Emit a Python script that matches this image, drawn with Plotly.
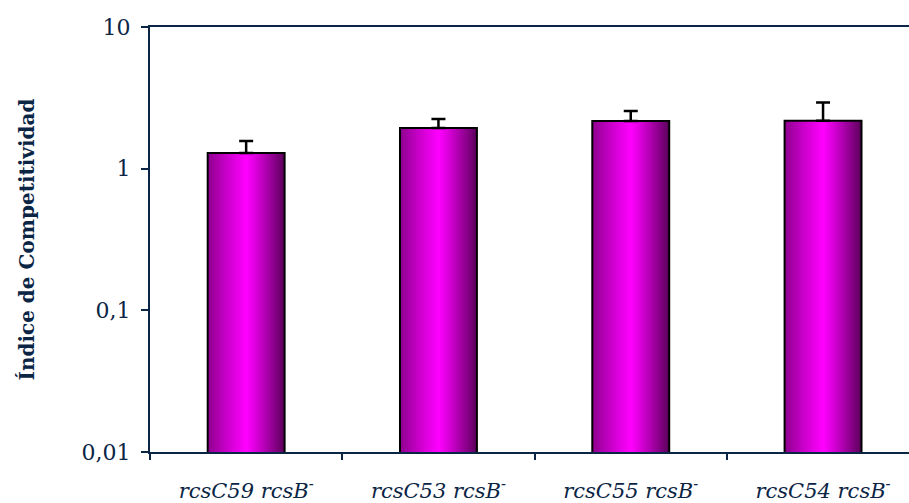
import plotly.graph_objects as go

categories = ["rcsC59 rcsB<sup>-</sup>", "rcsC53 rcsB<sup>-</sup>",
              "rcsC55 rcsB<sup>-</sup>", "rcsC54 rcsB<sup>-</sup>"]
values = [1.29, 1.94, 2.17, 2.18]
err_plus = [0.28, 0.30, 0.38, 0.75]

tick_vals = [0.01, 0.1, 1, 10]
tick_text = ["0,01", "0,1", "1", "10"]

NAVY = "#0b2545"
FONT = "DejaVu Serif"

x_idx = list(range(len(categories)))
bar_w = 0.4
N = 48
dw = bar_w / N
XR = [-0.5, -0.5 + 759 / 192.3]


def grad_color(t):
    # horizontal gradient: dark purple edges, bright magenta near centre
    peak = 0.5
    left = (140, 0, 140)
    right = (90, 0, 90)
    mid = (255, 0, 255)
    if t <= peak:
        s = (t / peak) ** 0.9
        a, b = left, mid
    else:
        s = ((t - peak) / (1 - peak)) ** 1.1
        a, b = mid, right
    c = [round(a[k] + (b[k] - a[k]) * s) for k in range(3)]
    return f"rgb({c[0]},{c[1]},{c[2]})"


fig = go.Figure()
for i in range(N):
    t = (i + 0.5) / N
    fig.add_trace(go.Bar(
        x=x_idx, y=values,
        width=bar_w - i * dw,
        offset=-bar_w / 2 + i * dw,
        marker=dict(color=grad_color(t), line=dict(width=0)),
        showlegend=False, hoverinfo="skip",
    ))

fig.add_trace(go.Bar(
    x=x_idx, y=values,
    width=bar_w, offset=-bar_w / 2,
    marker=dict(color="rgba(0,0,0,0)", line=dict(color="black", width=2)),
    error_y=dict(type="data", symmetric=False, array=err_plus,
                 arrayminus=[0] * len(values), color="black",
                 thickness=2.5, width=7),
    showlegend=False, hoverinfo="skip",
))

fig.update_layout(
    width=909, height=503,
    margin=dict(l=150, r=0, t=27, b=45),
    barmode="overlay",
    plot_bgcolor="white", paper_bgcolor="white",
    font=dict(family=FONT, color=NAVY),
    hovermode=False,
)

fig.update_xaxes(
    type="linear",
    range=XR,
    tickmode="array",
    tickvals=x_idx,
    ticktext=categories,
    ticks="",
    showgrid=False, zeroline=False,
    showline=True, linecolor=NAVY, linewidth=2, mirror=True,
    tickfont=dict(family=FONT, size=21, color=NAVY, style="italic"),
    ticklabelstandoff=19,
)
# boundary ticks on the x axis, drawn as a second (overlaying) axis
fig.update_layout(xaxis2=dict(
    overlaying="x", side="bottom", range=XR,
    tickmode="array", tickvals=[-0.5, 0.5, 1.5, 2.5],
    ticks="outside", ticklen=7, tickwidth=2, tickcolor=NAVY,
    showticklabels=False, showgrid=False, zeroline=False, showline=False,
))
fig.add_trace(go.Scatter(x=[0], y=[1], xaxis="x2", mode="markers",
                         marker=dict(opacity=0), showlegend=False,
                         hoverinfo="skip"))

fig.update_yaxes(
    type="log",
    range=[-2, 1],
    tickmode="array",
    tickvals=tick_vals,
    ticktext=tick_text,
    ticks="outside", ticklen=7, tickwidth=2, tickcolor=NAVY,
    showgrid=False, zeroline=False,
    showline=True, linecolor=NAVY, linewidth=2,
    tickfont=dict(family=FONT, size=22, color=NAVY),
    ticklabelstandoff=6,
    title=dict(text="<b>Índice de Competitividad</b>",
               font=dict(family=FONT, size=20, color=NAVY),
               standoff=42),
)

fig.write_html("out.html",
               config={"displayModeBar": False},
               post_script="document.body.style.margin='0';"
                           "document.body.style.overflow='hidden';")
